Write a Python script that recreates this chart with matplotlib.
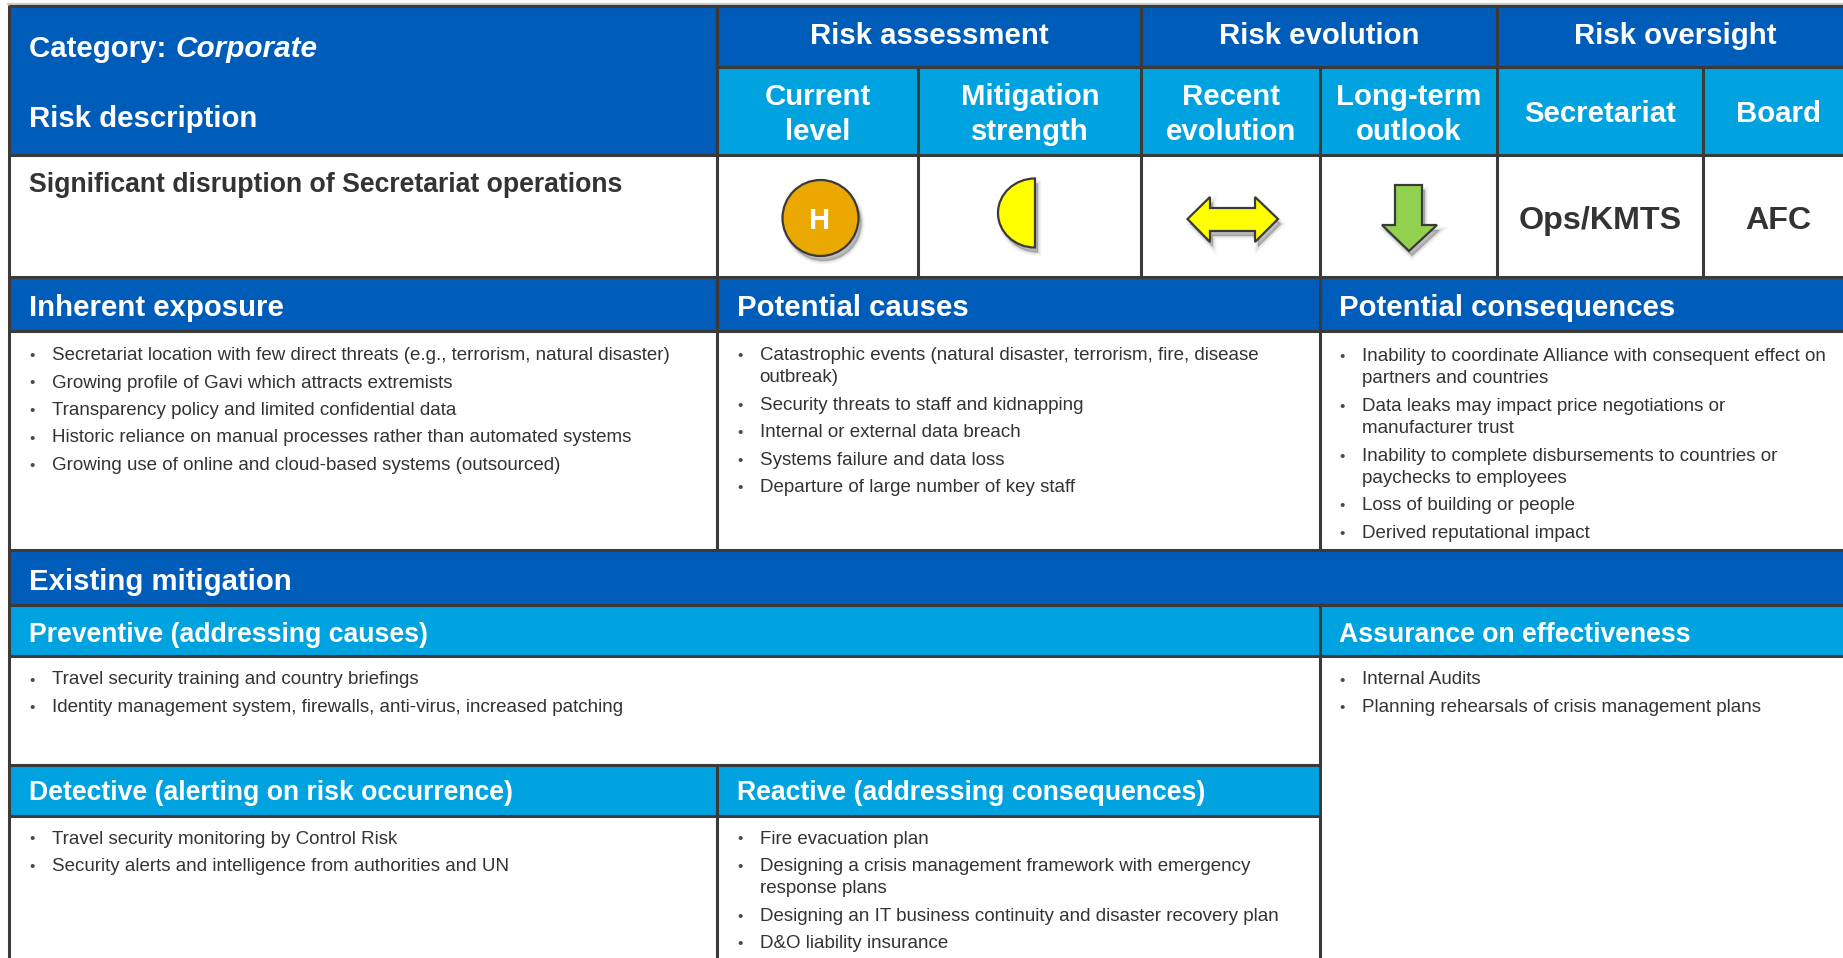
import matplotlib
matplotlib.use("Agg")
import matplotlib.pyplot as plt
from matplotlib.patches import Rectangle, Ellipse, Polygon, PathPatch
from matplotlib.path import Path

plt.rcParams["font.family"] = ["Liberation Sans", "DejaVu Sans"]

DARK_BLUE = "#005CB9"
LIGHT_BLUE = "#00A3E0"
LINE = "#3A3A3A"
TEXT = "#333333"

# ---------- text content ----------
top_headers = ["Risk assessment", "Risk evolution", "Risk oversight"]
sub_headers = ["Current\nlevel", "Mitigation\nstrength", "Recent\nevolution",
               "Long-term\noutlook", "Secretariat", "Board"]
risk_title = "Significant disruption of Secretariat operations"
owners = ["Ops/KMTS", "AFC"]

exposure = ["Secretariat location with few direct threats (e.g., terrorism, natural disaster)",
            "Growing profile of Gavi which attracts extremists",
            "Transparency policy and limited confidential data",
            "Historic reliance on manual processes rather than automated systems",
            "Growing use of online and cloud-based systems (outsourced)"]
causes = ["Catastrophic events (natural disaster, terrorism, fire, disease\noutbreak)",
          "Security threats to staff and kidnapping",
          "Internal or external data breach",
          "Systems failure and data loss",
          "Departure of large number of key staff"]
consequences = ["Inability to coordinate Alliance with consequent effect on\npartners and countries",
                "Data leaks may impact price negotiations or\nmanufacturer trust",
                "Inability to complete disbursements to countries or\npaychecks to employees",
                "Loss of building or people",
                "Derived reputational impact"]
preventive = ["Travel security training and country briefings",
              "Identity management system, firewalls, anti-virus, increased patching"]
assurance = ["Internal Audits",
             "Planning rehearsals of crisis management plans"]
detective = ["Travel security monitoring by Control Risk",
             "Security alerts and intelligence from authorities and UN"]
reactive = ["Fire evacuation plan",
            "Designing a crisis management framework with emergency\nresponse plans",
            "Designing an IT business continuity and disaster recovery plan",
            "D&O liability insurance"]

# ---------- page grid, in pixels ----------
W, H = 1843, 958
X0, X1, X2, X3, X4, X5, X6 = 9, 717, 918, 1141, 1320, 1497, 1703

fig = plt.figure(figsize=(W / 100, H / 100), dpi=100)
ax = fig.add_axes([0, 0, 1, 1])
ax.set_xlim(0, W)
ax.set_ylim(H, 0)
ax.axis("off")


def box(x0, y0, x1, y1, color):
    ax.add_patch(Rectangle((x0, y0), x1 - x0, y1 - y0, facecolor=color, edgecolor="none", zorder=1))


def hline(y, x0=X0, x1=W):
    ax.plot([x0, x1], [y, y], color=LINE, lw=2.2, zorder=3, solid_capstyle="butt")


def vline(x, y0, y1):
    ax.plot([x, x], [y0, y1], color=LINE, lw=2.2, zorder=3, solid_capstyle="butt")


def label(x, y, s, size=21.2, color="white", weight="bold", ha="left", style="normal"):
    ax.text(x, y, s, fontsize=size, color=color, fontweight=weight, ha=ha, va="baseline",
            fontstyle=style, zorder=5)


def bullets(x, y, items):
    # wrapped lines sit closer together than separate items
    for item in items:
        ax.text(x + 21, y, "\u2022", fontsize=11, color="#4A4A4A", ha="left", va="baseline", zorder=5)
        for line in item.split("\n"):
            ax.text(x + 43.5, y, line, fontsize=13.5, color=TEXT, ha="left", va="baseline", zorder=5)
            y += 22.3
        y += 5.2


def with_shadow(make_patch, dx=3, dy=5):
    # soft drop shadow made of a few faint copies
    for grow, alpha in [(5, 0.03), (3.5, 0.04), (2, 0.05), (1, 0.06), (0, 0.08)]:
        p = make_patch(dx, dy)
        p.set(facecolor="black", edgecolor="black", linewidth=grow, alpha=alpha, zorder=3.5)
        ax.add_patch(p)
    ax.add_patch(make_patch(0, 0))


# ---------- filled bands ----------
box(X0, 6, W, 155, DARK_BLUE)
box(X1, 67, W, 155, LIGHT_BLUE)
box(X0, 277, W, 331, DARK_BLUE)
box(X0, 550, W, 605, DARK_BLUE)
box(X0, 605, W, 656, LIGHT_BLUE)
box(X0, 765, X4, 816, LIGHT_BLUE)

# ---------- grid lines ----------
ax.plot([X0 - 1, W], [4, 4], color="#C8C8C8", lw=1.5, zorder=2)
hline(6)
hline(67, X1)
hline(155)
hline(277)
hline(331)
hline(550)
hline(605)
hline(656)
hline(765, X0, X4)
hline(816, X0, X4)

vline(X0, 5, H)
vline(X1, 5, 550)
vline(X1, 765, H)
vline(X2, 67, 277)
vline(X3, 5, 277)
vline(X4, 67, 550)
vline(X4, 605, H)
vline(X5, 5, 277)
vline(X6, 67, 277)

# ---------- header text ----------
ax.text(29, 57, "Category: ", fontsize=21.2, color="white", fontweight="bold", zorder=5)
label(176, 57, "Corporate", size=21.4, style="italic")
label(29, 127, "Risk description")

for cx, s in zip([929, 1319, 1675], top_headers):
    label(cx, 44, s, ha="center")

for cx, s in zip([818, 1030, 1231, 1409, 1600, 1778], sub_headers):
    parts = s.split("\n")
    if len(parts) == 2:
        label(cx, 105, parts[0], ha="center")
        label(cx, 140, parts[1], ha="center")
    else:
        label(cx, 122, parts[0], ha="center")

label(29, 191.5, risk_title, size=19.15, color=TEXT)
for cx, s in zip([1600, 1778], owners):
    label(cx, 229, s, size=23.2, color=TEXT, ha="center")

label(29, 316, "Inherent exposure")
label(737, 316, "Potential causes")
label(1339, 316, "Potential consequences")
label(29, 590, "Existing mitigation")
label(29, 642, "Preventive (addressing causes)", size=19.15)
label(1339, 642, "Assurance on effectiveness", size=19.15)
label(29, 800.5, "Detective (alerting on risk occurrence)", size=19.15)
label(737, 800.5, "Reactive (addressing consequences)", size=19.15)

# ---------- bullet lists ----------
bullets(8, 360, exposure)
bullets(716, 360, causes)
bullets(1318, 361, consequences)
bullets(8, 684.5, preventive)
bullets(1318, 684.5, assurance)
bullets(8, 843.5, detective)
bullets(716, 843.5, reactive)


# ---------- status symbols ----------
def level_circle(dx, dy):
    return Ellipse((820.5 + dx, 218 + dy), 76, 76, facecolor="#EAA800", edgecolor=LINE, lw=1.6, zorder=4)


def half_moon(dx, dy):
    cx, cy, rx, ry = 1035 + dx, 213 + dy, 37, 34.5
    k = 0.5523
    verts = [(cx, cy - ry), (cx - k * rx, cy - ry), (cx - rx, cy - k * ry), (cx - rx, cy),
             (cx - rx, cy + k * ry), (cx - k * rx, cy + ry), (cx, cy + ry), (cx, cy - ry)]
    codes = [Path.MOVETO] + [Path.CURVE4] * 6 + [Path.CLOSEPOLY]
    return PathPatch(Path(verts, codes), facecolor="#FFFF00", edgecolor=LINE, lw=1.6, zorder=4)


def double_arrow(dx, dy):
    pts = [(1187.5, 219), (1210, 197), (1210, 208), (1255, 208), (1255, 197), (1278, 219),
           (1255, 242), (1255, 231), (1210, 231), (1210, 242)]
    return Polygon([(x + dx, y + dy) for x, y in pts], closed=True, facecolor="#FFFF00",
                   edgecolor=LINE, lw=1.6, zorder=4)


def down_arrow(dx, dy):
    pts = [(1395, 185), (1422, 185), (1422, 225), (1437, 225), (1409, 251), (1382, 225), (1395, 225)]
    return Polygon([(x + dx, y + dy) for x, y in pts], closed=True, facecolor="#92D14F",
                   edgecolor=LINE, lw=1.6, zorder=4)


for shape in [level_circle, half_moon, double_arrow, down_arrow]:
    with_shadow(shape)

label(820, 229, "H", size=21, ha="center")

fig.savefig("out.png", dpi=100)
